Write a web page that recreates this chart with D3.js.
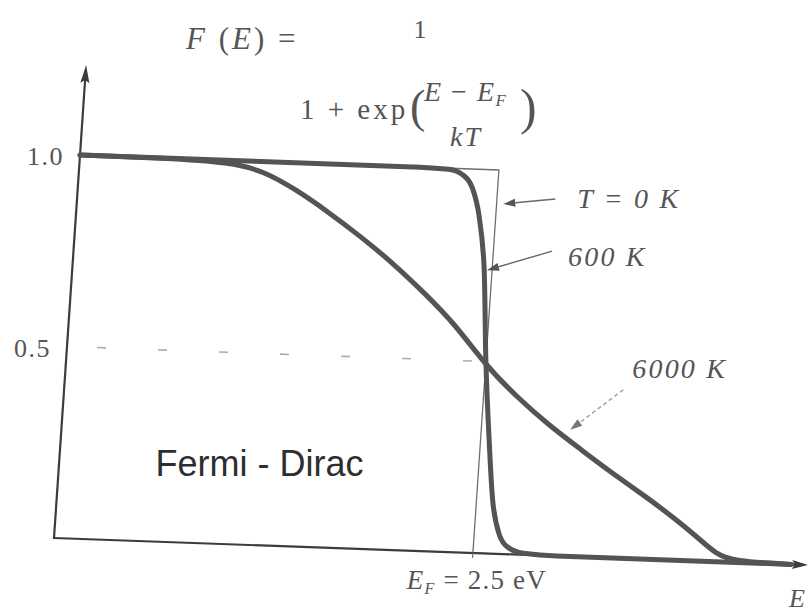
<!DOCTYPE html>
<html>
<head>
<meta charset="utf-8">
<script src="https://cdn.jsdelivr.net/npm/d3@7"></script>
<style>
  html, body { margin: 0; padding: 0; background: #ffffff; }
  svg { display: block; }
</style>
</head>
<body>
<svg id="chart" width="811" height="613"></svg>
<script>
// Fermi-Dirac occupation F(E) at three temperatures
const energyT0 = [0, 2.5, 2.5, 4.4];
const occT0    = [1, 1, 0, 0];

const energy600 = [0, 1.0, 2.0, 2.2, 2.3, 2.35, 2.4, 2.45, 2.5, 2.55, 2.6, 2.65, 2.7, 2.8, 3.0, 4.4];
const occ600    = [1, 1, 1, 0.997, 0.98, 0.95, 0.88, 0.75, 0.5, 0.3, 0.13, 0.05, 0.02, 0.004, 0, 0];

const energy6000 = [0, 0.5, 0.9, 1.1, 1.3, 1.5, 1.7, 1.9, 2.1, 2.3, 2.5, 2.7, 2.9, 3.1, 3.3, 3.5, 3.7, 3.85, 3.95, 4.05, 4.4];
const occ6000    = [1, 1, 0.995, 0.975, 0.93, 0.875, 0.815, 0.75, 0.675, 0.595, 0.49, 0.41, 0.34, 0.28, 0.22, 0.165, 0.105, 0.055, 0.02, 0.003, 0];

const yTickValues = [1.0, 0.5];
const yTickLabels = ["1.0", "0.5"];
const fermiEnergy = 2.5;
const curveLabels = ["T = 0 K", "600 K", "6000 K"];

const energyMax = 4.5;    // end of the energy axis (eV)
const occAxisMax = 1.235; // top of the F axis arrow

// Scales in the plot's own frame (x right, y up as negative)
const xScale = d3.scaleLinear().domain([0, energyMax]).range([0, 754]);
const yScale = d3.scaleLinear().domain([0, 1]).range([0, -383]);

// The drawing sits slightly skewed on the page
const M = { a: 1, b: 0.0358, c: -0.0679, d: 1, e: 54, f: 538 };
function project(E, F) {
  const x = xScale(E), y = yScale(F);
  return [M.a * x + M.c * y + M.e, M.b * x + M.d * y + M.f];
}

const svg = d3.select("#chart");
const plot = svg.append("g")
  .attr("transform", `matrix(${M.a},${M.b},${M.c},${M.d},${M.e},${M.f})`);

const zip = (xs, ys) => xs.map((v, i) => ({ E: v, F: ys[i] }));

const axisColor = "#3c3c3c";
const curveColor = "#545454";

// Dashed guide at F = 0.5
plot.append("line")
  .attr("x1", xScale(0) + 30).attr("y1", yScale(0.5))
  .attr("x2", xScale(fermiEnergy)).attr("y2", yScale(0.5))
  .attr("stroke", "#ababab").attr("stroke-width", 1.6)
  .attr("stroke-dasharray", "9,52");

// T = 0 K step (thin)
const lineLinear = d3.line().x(d => xScale(d.E)).y(d => yScale(d.F));
plot.append("path")
  .datum(zip(energyT0, occT0))
  .attr("d", lineLinear)
  .attr("fill", "none").attr("stroke", "#6e6e6e").attr("stroke-width", 1.3);

// Axes
plot.append("line")
  .attr("x1", xScale(0)).attr("y1", yScale(0))
  .attr("x2", xScale(energyMax) - 4).attr("y2", yScale(0))
  .attr("stroke", axisColor).attr("stroke-width", 2.2);
plot.append("line")
  .attr("x1", xScale(0)).attr("y1", yScale(0) + 1)
  .attr("x2", xScale(0)).attr("y2", yScale(occAxisMax) + 6)
  .attr("stroke", axisColor).attr("stroke-width", 2.2);

// Arrowheads on the axes
const xa = xScale(energyMax), ya0 = yScale(0);
plot.append("path")
  .attr("d", `M${xa},${ya0} L${xa - 16},${ya0 - 4.5} L${xa - 13},${ya0} L${xa - 16},${ya0 + 4.5} Z`)
  .attr("fill", axisColor);
const yb = yScale(occAxisMax), xb0 = xScale(0);
plot.append("path")
  .attr("d", `M${xb0},${yb} L${xb0 - 4.5},${yb + 18} L${xb0},${yb + 15} L${xb0 + 4.5},${yb + 18} Z`)
  .attr("fill", axisColor);

// E_F tick
plot.append("line")
  .attr("x1", xScale(fermiEnergy)).attr("y1", yScale(0))
  .attr("x2", xScale(fermiEnergy)).attr("y2", yScale(0) + 5)
  .attr("stroke", "#777").attr("stroke-width", 1.2);

// Finite-temperature curves (thick)
const line600 = d3.line().x(d => xScale(d.E)).y(d => yScale(d.F)).curve(d3.curveMonotoneX);
const line6000 = d3.line().x(d => xScale(d.E)).y(d => yScale(d.F)).curve(d3.curveBasis);
[[zip(energy600, occ600), line600], [zip(energy6000, occ6000), line6000]].forEach(([series, gen]) => {
  plot.append("path")
    .datum(series)
    .attr("d", gen)
    .attr("fill", "none").attr("stroke", curveColor)
    .attr("stroke-width", 5).attr("stroke-linejoin", "round").attr("stroke-linecap", "round");
});

// Tick labels on the F axis
const serif = "'Liberation Serif', 'DejaVu Serif', serif";
yTickValues.forEach((v, i) => {
  const p = project(0, v);
  svg.append("text")
    .attr("x", p[0] - 16).attr("y", p[1] + 10)
    .attr("text-anchor", "end")
    .attr("font-family", serif).attr("font-size", 26)
    .attr("letter-spacing", 1.5)
    .attr("fill", "#555")
    .text(yTickLabels[i]);
});

// E_F label under the axis
{
  const p = project(fermiEnergy, 0);
  const t = svg.append("text")
    .attr("x", p[0] + 4).attr("y", p[1] + 36)
    .attr("text-anchor", "middle")
    .attr("font-family", serif).attr("font-size", 27)
    .attr("letter-spacing", 1.2)
    .attr("font-style", "italic").attr("fill", "#555");
  t.append("tspan").text("E");
  t.append("tspan").attr("font-size", 16).attr("dy", 5).text("F");
  t.append("tspan").attr("dy", -5).attr("font-style", "normal").text(" = 2.5 eV");
}

// Axis name at the end of the energy axis
{
  const p = project(energyMax, 0);
  svg.append("text")
    .attr("x", p[0] - 19).attr("y", p[1] + 42)
    .attr("font-family", serif).attr("font-size", 26)
    .attr("font-style", "italic").attr("fill", "#555")
    .text("E");
}

// Pointer arrows to the curves
function pointer(tip, tail, dashed) {
  const dx = tip[0] - tail[0], dy = tip[1] - tail[1];
  const len = Math.hypot(dx, dy), ux = dx / len, uy = dy / len;
  const hl = 12, hw = 4;
  const bx = tip[0] - ux * hl, by = tip[1] - uy * hl;
  svg.append("line")
    .attr("x1", tail[0]).attr("y1", tail[1]).attr("x2", bx).attr("y2", by)
    .attr("stroke", dashed ? "#9a9a9a" : "#6a6a6a").attr("stroke-width", 1.4)
    .attr("stroke-dasharray", dashed ? "4,3" : null);
  svg.append("path")
    .attr("d", `M${tip[0]},${tip[1]} L${bx - uy * hw},${by + ux * hw} L${bx + uy * hw},${by - ux * hw} Z`)
    .attr("fill", dashed ? "#777" : "#555");
}

const tip0 = project(2.54, 0.912);
pointer(tip0, [tip0[0] + 52, tip0[1] - 5], false);
const tip600 = project(2.47, 0.738);
pointer(tip600, [tip600[0] + 65, tip600[1] - 19], false);
const tip6000 = project(3.03, 0.33);
pointer(tip6000, [tip6000[0] + 53, tip6000[1] - 40], true);

const labelStyle = sel => sel.attr("font-family", serif).attr("font-size", 28)
  .attr("letter-spacing", 2.2)
  .attr("font-style", "italic").attr("fill", "#555");
svg.append("text").call(labelStyle)
  .attr("x", tip0[0] + 74).attr("y", tip0[1] + 4)
  .text(curveLabels[0]);
svg.append("text").call(labelStyle)
  .attr("x", tip600[0] + 81).attr("y", tip600[1] - 4)
  .text(curveLabels[1]);
svg.append("text").call(labelStyle)
  .attr("x", tip6000[0] + 62).attr("y", tip6000[1] - 52)
  .text(curveLabels[2]);

// Series name inside the plot
{
  const p = project(0.58, 0.17);
  svg.append("text")
    .attr("x", p[0]).attr("y", p[1])
    .attr("font-family", "'Liberation Sans', Arial, sans-serif")
    .attr("font-size", 36).attr("fill", "#2e2e2e")
    .text("Fermi - Dirac");
}

// Formula
const formula = svg.append("g").attr("fill", "#555").attr("font-family", serif);
{
  const t = formula.append("text").attr("x", 186).attr("y", 49).attr("font-size", 31)
    .attr("letter-spacing", 3);
  t.append("tspan").attr("font-style", "italic").text("F");
  t.append("tspan").text(" (");
  t.append("tspan").attr("font-style", "italic").text("E");
  t.append("tspan").text(") =");
}
formula.append("text").attr("x", 420).attr("y", 38).attr("font-size", 26)
  .attr("text-anchor", "middle").text("1");
formula.append("text").attr("x", 300).attr("y", 119).attr("font-size", 29)
  .attr("letter-spacing", 3).text("1 + exp");
formula.append("text").attr("x", 410).attr("y", 122).attr("font-size", 46)
  .attr("font-weight", 300).text("(");
{
  const t = formula.append("text").attr("x", 424).attr("y", 101).attr("font-size", 28)
    .attr("letter-spacing", 1.5).attr("font-style", "italic");
  t.append("tspan").text("E");
  t.append("tspan").attr("font-style", "normal").text(" − ");
  t.append("tspan").text("E");
  t.append("tspan").attr("font-size", 17).attr("dy", 5).text("F");
}
{
  const t = formula.append("text").attr("x", 450).attr("y", 146).attr("font-size", 28)
    .attr("letter-spacing", 2).attr("font-style", "italic");
  t.append("tspan").text("kT");
}
formula.append("text").attr("x", 520).attr("y", 124).attr("font-size", 50)
  .attr("font-weight", 300).text(")");
</script>
</body>
</html>
